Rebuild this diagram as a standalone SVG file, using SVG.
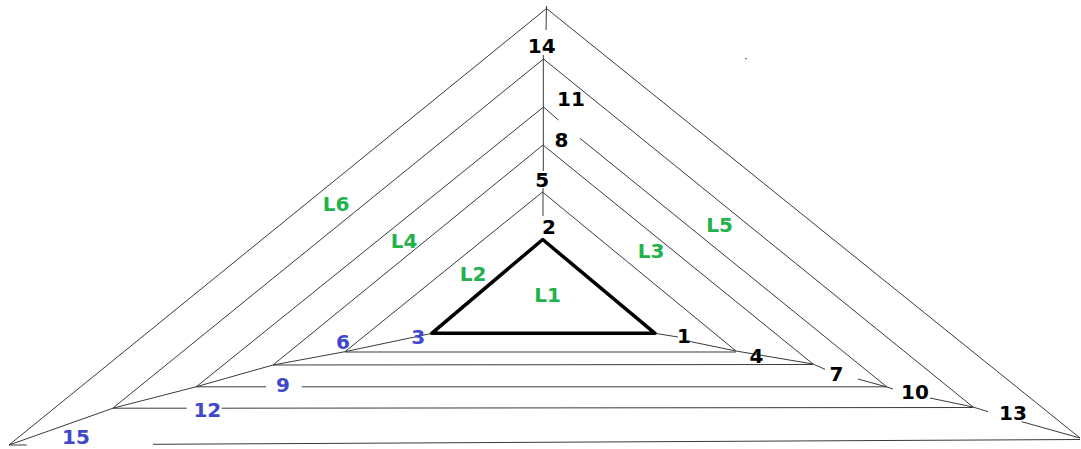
<svg xmlns="http://www.w3.org/2000/svg" width="1081" height="449" viewBox="0 0 1081 449">
<style>
.ln{stroke:#3a3a3a;stroke-width:1;fill:none}
.thick{stroke:#000;stroke-width:3.5;fill:none;stroke-linejoin:round}
.t{font-family:"DejaVu Sans","Liberation Sans",sans-serif;font-weight:bold;font-size:20px;text-anchor:middle}
.k{fill:#000}
.b{fill:#3f48cc}
.g{fill:#22b14c}
</style>
<rect width="1081" height="449" fill="#fff"/>
<g id="connectors">
<line class="ln" x1="546.5" y1="6" x2="546" y2="30"/>
<line class="ln" x1="543.3" y1="55" x2="543.3" y2="171"/>
<line class="ln" x1="543" y1="188" x2="543" y2="216"/>
<line class="ln" x1="542.5" y1="192" x2="345" y2="351.7"/>
<line class="ln" x1="543" y1="145" x2="273" y2="365"/>
<line class="ln" x1="543.5" y1="107" x2="196" y2="387"/>
<line class="ln" x1="543.5" y1="59" x2="113" y2="408"/>
<line class="ln" x1="546.5" y1="8.5" x2="9" y2="445"/>
<line class="ln" x1="542.5" y1="192" x2="736" y2="351"/>
<line class="ln" x1="543" y1="145" x2="813" y2="364"/>
<line class="ln" x1="543.5" y1="107" x2="558.3" y2="120"/>
<line class="ln" x1="580" y1="138.3" x2="887" y2="387"/>
<line class="ln" x1="543.5" y1="59" x2="973" y2="407"/>
<line class="ln" x1="546.5" y1="8.5" x2="1080" y2="438"/>
<line class="ln" x1="345" y1="352" x2="736" y2="352"/>
<line class="ln" x1="273" y1="365" x2="813" y2="364.5"/>
<line class="ln" x1="196" y1="386.8" x2="266" y2="386.8"/>
<line class="ln" x1="301.7" y1="386.8" x2="887" y2="386.8"/>
<line class="ln" x1="113" y1="408.2" x2="186.7" y2="408.2"/>
<line class="ln" x1="221.7" y1="408.2" x2="973" y2="407.5"/>
<line class="ln" x1="9" y1="445" x2="26.7" y2="445"/>
<line class="ln" x1="153" y1="444.3" x2="1080" y2="439.5"/>
<polyline class="ln" points="432,333.3 345,351.7 273,365 196,386.8 113,408.2 9,445"/>
<line class="ln" x1="655" y1="333.3" x2="678" y2="337"/>
<line class="ln" x1="690" y1="341.5" x2="736" y2="351"/>
<line class="ln" x1="736" y1="351" x2="813" y2="364"/>
<line class="ln" x1="813" y1="364" x2="825" y2="369.3"/>
<line class="ln" x1="858" y1="379" x2="887" y2="387"/>
<line class="ln" x1="887" y1="387" x2="893" y2="389"/>
<line class="ln" x1="930" y1="398" x2="973" y2="407"/>
<line class="ln" x1="973" y1="407" x2="988" y2="411.7"/>
<line class="ln" x1="1021.7" y1="421.7" x2="1080" y2="438"/>
<polygon class="thick" points="542.7,239.5 431.7,333.3 655,333.3"/>
<rect x="745" y="58" width="2" height="1.2" fill="#777"/>
</g>
<g id="n14"><text class="t k" x="541.7" y="53.3">14</text></g>
<g id="n11"><text class="t k" x="571" y="106">11</text></g>
<g id="n8"><text class="t k" x="561.5" y="146.7">8</text></g>
<g id="n5"><text class="t k" x="542.3" y="186.7">5</text></g>
<g id="n2"><text class="t k" x="549" y="234">2</text></g>
<g id="n1"><text class="t k" x="684" y="343.3">1</text></g>
<g id="n4"><text class="t k" x="756.5" y="363">4</text></g>
<g id="n7"><text class="t k" x="836.5" y="380.7">7</text></g>
<g id="n10"><text class="t k" x="915" y="399">10</text></g>
<g id="n13"><text class="t k" x="1013" y="420">13</text></g>
<g id="n3"><text class="t b" x="418.3" y="344">3</text></g>
<g id="n6"><text class="t b" x="343" y="349">6</text></g>
<g id="n9"><text class="t b" x="283" y="391.7">9</text></g>
<g id="n12"><text class="t b" x="207.3" y="416.7">12</text></g>
<g id="n15"><text class="t b" x="76" y="444.3">15</text></g>
<g id="L1"><text class="t g" x="547.5" y="302.3">L1</text></g>
<g id="L2"><text class="t g" x="473" y="281">L2</text></g>
<g id="L3"><text class="t g" x="651" y="258">L3</text></g>
<g id="L4"><text class="t g" x="404" y="248.3">L4</text></g>
<g id="L5"><text class="t g" x="719.5" y="231.7">L5</text></g>
<g id="L6"><text class="t g" x="336" y="210.7">L6</text></g>
</svg>
